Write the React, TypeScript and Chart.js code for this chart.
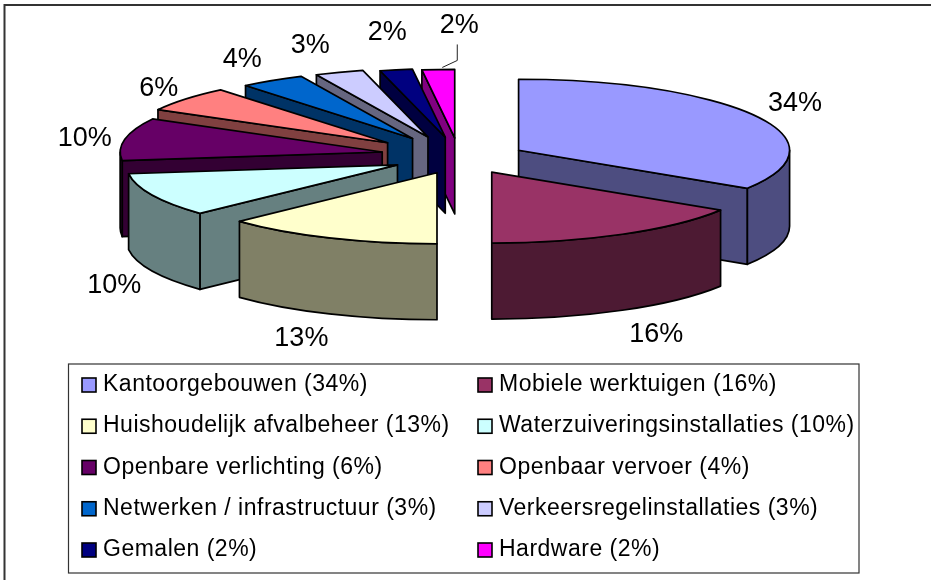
import React, { useEffect, useRef } from "react";
import { Chart, registerables } from "chart.js";

Chart.register(...registerables);

const categories = [
  "Kantoorgebouwen",
  "Mobiele werktuigen",
  "Huishoudelijk afvalbeheer",
  "Waterzuiveringsinstallaties",
  "Openbare verlichting",
  "Openbaar vervoer",
  "Netwerken / infrastructuur",
  "Verkeersregelinstallaties",
  "Gemalen",
  "Hardware",
];
const sliceValues = [34, 16, 13, 10, 10, 6, 4, 3, 2, 2];
const legendPercents = [34, 16, 13, 10, 6, 4, 3, 3, 2, 2];
const topColors = ["#9999FF", "#993366", "#FFFFCC", "#CCFFFF", "#660066", "#FF8080", "#0066CC", "#CCCCFF", "#000080", "#FF00FF"];
const sideColors = ["#4D4D80", "#4D1A33", "#808066", "#668080", "#330033", "#804040", "#003366", "#666680", "#000040", "#800080"];

const RADIUS = 271;
const EXPLODE = 68;
const TILT = 0.262;
const EXPLODE_TILT = 0.236;
const DEPTH = 76;
const FONT = "Liberation Sans, Arial, sans-serif";
const LABEL_FONT_SIZE = 27;
const LEGEND_FONT_SIZE = 23;
// label shift from the slice's rim, per slice
const labelGapX = [39, 34, -28, -38, -40, -27, -30, -29, -9, 21];
const labelGapY = [-13, 24, 25, 14, -1, -10, -21, -27, -37, -44];
// perspective of the back of the pie: small per-slice corrections
const tipShiftX = [0, 0, 5, 0, -10, -19, -10, -8, -1, 0];
const tipShiftY = [0, 0, 0, 0, -3, -5, -6, -6, -5, -4];
const radiusScale = [1, 1, 1, 1, 0.967, 0.967, 0.967, 0.967, 0.967, 0.967];

const depth3d = {
  id: "depth3d",
  beforeDatasetsDraw(chart: any) {
    const ctx = chart.ctx as CanvasRenderingContext2D;
    const arcs = chart.getDatasetMeta(0).data as any[];
    const parts = arcs.map((arc, i) => {
      const mid = (arc.startAngle + arc.endAngle) / 2;
      return {
        i,
        s: arc.startAngle,
        e: arc.endAngle,
        cx: arc.x + Math.cos(mid) * EXPLODE + tipShiftX[i],
        cy: arc.y + Math.sin(mid) * EXPLODE * EXPLODE_TILT + tipShiftY[i],
        r: arc.outerRadius * radiusScale[i],
      };
    });
    // back slices first, front slices last
    const order = [9, 8, 7, 6, 5, 4, 3, 0, 1, 2];
    ctx.save();
    ctx.lineWidth = 1.7;
    ctx.lineJoin = "round";
    ctx.strokeStyle = "#000";
    for (const idx of order) {
      const p = parts[idx];
      const ry = p.r * TILT;
      const px = (a: number) => p.cx + Math.cos(a) * p.r;
      const py = (a: number) => p.cy + Math.sin(a) * ry;
      ctx.fillStyle = sideColors[idx];
      // only the cut faces that turn towards the viewer
      const faces: number[] = [];
      if (Math.cos(p.s) < -1e-6) faces.push(p.s);
      if (Math.cos(p.e) > 1e-6) faces.push(p.e);
      for (const a of faces) {
        ctx.beginPath();
        ctx.moveTo(p.cx, p.cy);
        ctx.lineTo(px(a), py(a));
        ctx.lineTo(px(a), py(a) + DEPTH);
        ctx.lineTo(p.cx, p.cy + DEPTH);
        ctx.closePath();
        ctx.fill();
        ctx.stroke();
      }
      // rim wall, front half of the ellipse only
      const from = Math.max(p.s, 0);
      const to = Math.min(p.e, Math.PI);
      if (to > from) {
        ctx.beginPath();
        ctx.ellipse(p.cx, p.cy, p.r, ry, 0, from, to);
        ctx.ellipse(p.cx, p.cy + DEPTH, p.r, ry, 0, to, from, true);
        ctx.closePath();
        ctx.fill();
        ctx.stroke();
      }
      ctx.fillStyle = topColors[idx];
      ctx.beginPath();
      ctx.moveTo(p.cx, p.cy);
      ctx.ellipse(p.cx, p.cy, p.r, ry, 0, p.s, p.e);
      ctx.closePath();
      ctx.fill();
      ctx.stroke();
    }
    // percentage labels
    ctx.fillStyle = "#000";
    ctx.font = `${LABEL_FONT_SIZE}px ${FONT}`;
    ctx.textAlign = "center";
    ctx.textBaseline = "middle";
    parts.forEach((p) => {
      const mid = (p.s + p.e) / 2;
      const x = p.cx + Math.cos(mid) * p.r + labelGapX[p.i];
      const y = p.cy + Math.sin(mid) * p.r * TILT + labelGapY[p.i] + (Math.sin(mid) > 0 ? DEPTH : 0);
      ctx.fillText(`${sliceValues[p.i]}%`, x, y);
    });
    // leader line of the last label
    const last = parts[parts.length - 1];
    const lm = (last.s + last.e) / 2;
    const lx = last.cx + Math.cos(lm) * last.r;
    const ly = last.cy + Math.sin(lm) * last.r * TILT;
    ctx.lineWidth = 1;
    ctx.strokeStyle = "#222";
    ctx.beginPath();
    ctx.moveTo(lx + 4, ly - 2);
    ctx.lineTo(lx + 19, ly - 9);
    ctx.lineTo(lx + 19, ly - 25);
    ctx.stroke();
    ctx.restore();
    return false;
  },
};

const legendBox = {
  id: "legendBox",
  afterDraw(chart: any) {
    const ctx = chart.ctx as CanvasRenderingContext2D;
    ctx.save();
    // frame: only top and left edges are on the picture
    ctx.strokeStyle = "#333";
    ctx.lineWidth = 2;
    ctx.beginPath();
    ctx.moveTo(4.5, 580);
    ctx.lineTo(4.5, 5);
    ctx.lineTo(931, 5);
    ctx.stroke();
    ctx.lineWidth = 1.2;
    ctx.strokeStyle = "#333";
    ctx.strokeRect(68.5, 364, 790.5, 209);
    ctx.font = `${LEGEND_FONT_SIZE}px ${FONT}`;
    (ctx as any).letterSpacing = "0.5px";
    ctx.textBaseline = "alphabetic";
    ctx.textAlign = "left";
    categories.forEach((name, i) => {
      const col = i % 2;
      const row = Math.floor(i / 2);
      const x = col === 0 ? 82 : 478;
      const y = 385 + row * 41.25;
      ctx.fillStyle = topColors[i];
      ctx.lineWidth = 1.6;
      ctx.strokeStyle = "#000";
      ctx.fillRect(x, y - 7, 14, 14);
      ctx.strokeRect(x, y - 7, 14, 14);
      ctx.fillStyle = "#000";
      ctx.fillText(`${name} (${legendPercents[i]}%)`, x + 21, y + 6);
    });
    ctx.restore();
  },
};

export default function App() {
  const ref = useRef<HTMLCanvasElement>(null);
  useEffect(() => {
    document.body.style.margin = "0";
    document.body.style.background = "#fff";
    const chart = new Chart(ref.current!, {
      type: "pie",
      data: {
        labels: categories,
        datasets: [{ data: sliceValues, backgroundColor: topColors, offset: EXPLODE, borderColor: "#000", borderWidth: 1 }],
      },
      options: {
        responsive: false,
        animation: false,
        radius: RADIUS,
        layout: { padding: { left: 0, top: 0, right: 13, bottom: 264 } },
        plugins: { legend: { display: false }, tooltip: { enabled: false } },
      } as any,
      plugins: [depth3d, legendBox],
    });
    return () => chart.destroy();
  }, []);
  return <canvas ref={ref} width={931} height={580} style={{ display: "block" }} />;
}
